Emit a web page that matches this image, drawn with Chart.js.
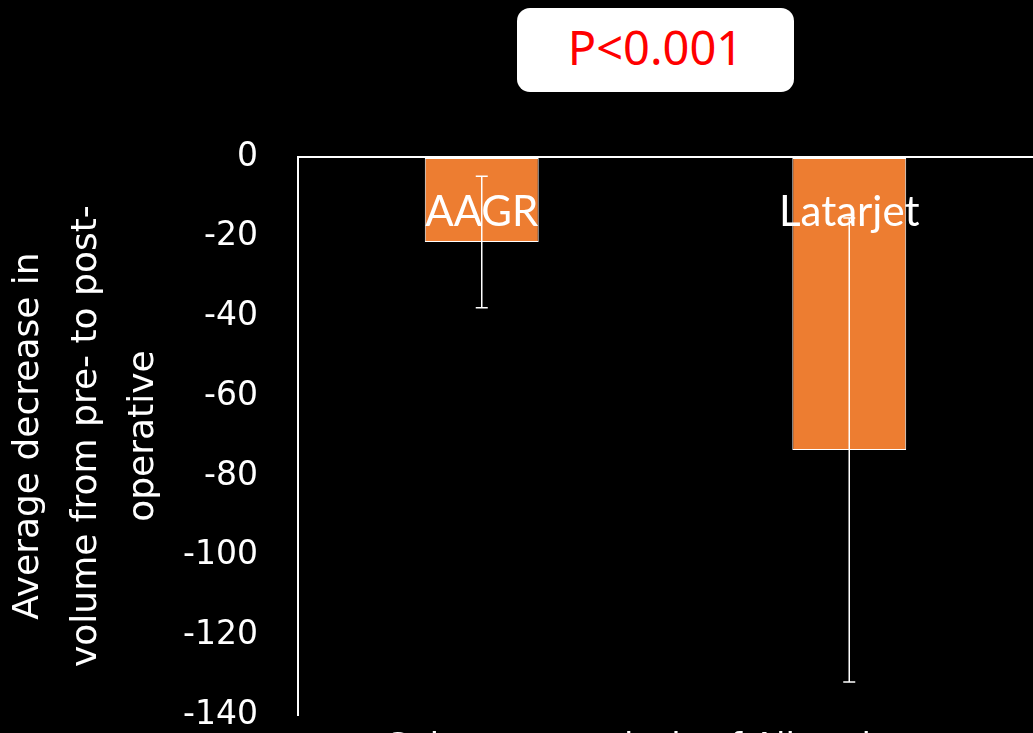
<!DOCTYPE html>
<html>
<head>
<meta charset="utf-8">
<script src="https://cdn.jsdelivr.net/npm/chart.js@4.4.1/dist/chart.umd.min.js"></script>
<style>
  html, body { margin: 0; padding: 0; background: #000; overflow: hidden; }
  #wrap { position: relative; width: 1033px; height: 733px; overflow: hidden; }
  #pbox {
    position: absolute; left: 517px; top: 8px; width: 277px; height: 84px;
    background: #fff; border-radius: 13px;
    color: #ff0000; font: 47px "Noto Sans", sans-serif;
    display: flex; align-items: center; justify-content: center;
    box-sizing: border-box; padding-bottom: 6px;
  }
</style>
</head>
<body>
<div id="wrap">
  <canvas id="chart" width="1033" height="803"></canvas>
  <div id="pbox">P&lt;0.001</div>
</div>
<script>
// Data
const groups = ['AAGR', 'Latarjet'];
const meanChange = [-21.3, -73.5];
const sdChange = [16.5, 58.2];
const yTitleLines = ['Average decrease in', 'volume from pre- to post-', 'operative'];
const xTitle = 'Subgroup analysis of All patients';

const LABEL_FONT = 'Lato, "Open Sans", sans-serif';
const AXIS_FONT = '"DejaVu Sans", sans-serif';

// error bars + in-bar labels
const barExtras = {
    id: 'barExtras',
    afterDatasetsDraw(chart) {
        const ctx = chart.ctx;
        const y = chart.scales.y;
        const meta = chart.getDatasetMeta(0);
        ctx.save();
        meta.data.forEach((bar, i) => {
            // label
            ctx.fillStyle = '#fff';
            ctx.font = '42px ' + LABEL_FONT;
            ctx.textAlign = 'center';
            ctx.textBaseline = 'middle';
            ctx.fillText(groups[i], bar.x, y.getPixelForValue(-14));

            // error bar
            const top = y.getPixelForValue(meanChange[i] + sdChange[i]);
            const bot = y.getPixelForValue(meanChange[i] - sdChange[i]);
            ctx.strokeStyle = '#fff';
            ctx.lineWidth = 1.5;
            ctx.beginPath();
            ctx.moveTo(bar.x, top); ctx.lineTo(bar.x, bot);
            ctx.moveTo(bar.x - 6, top); ctx.lineTo(bar.x + 6, top);
            ctx.moveTo(bar.x - 6, bot); ctx.lineTo(bar.x + 6, bot);
            ctx.stroke();
        });
        ctx.restore();
    }
};

new Chart(document.getElementById('chart'), {
    type: 'bar',
    data: {
        labels: groups,
        datasets: [{
            data: meanChange,
            backgroundColor: '#ED7D31',
            borderColor: '#fff',
            borderWidth: 1,
            borderSkipped: false,
            barPercentage: 0.31,
            categoryPercentage: 1.0,
        }]
    },
    options: {
        responsive: false,
        animation: false,
        layout: { padding: { top: 157, right: 0, left: 0, bottom: 0 } },
        plugins: {
            legend: { display: false },
            tooltip: { enabled: false }
        },
        scales: {
            x: {
                grid: { display: false },
                border: { display: false },
                ticks: { display: false },
                title: {
                    display: true,
                    text: xTitle,
                    color: '#fff',
                    font: { family: AXIS_FONT, size: 34 },
                    padding: { top: 5, bottom: 34 }
                }
            },
            y: {
                min: -140,
                max: 0,
                afterFit(scale) { scale.width = 298; },
                ticks: {
                    stepSize: 20,
                    color: '#fff',
                    padding: 40,
                    font: { family: AXIS_FONT, size: 33 }
                },
                grid: {
                    drawTicks: false,
                    lineWidth: 2,
                    color: ctx => ctx.tick && ctx.tick.value === 0 ? '#fff' : 'rgba(0,0,0,0)'
                },
                border: { display: true, color: '#fff', width: 2 },
                title: {
                    display: true,
                    text: yTitleLines,
                    color: '#fff',
                    font: { family: AXIS_FONT, size: 36, lineHeight: 1.6 },
                    padding: { top: 0, bottom: 0 }
                }
            }
        }
    },
    plugins: [barExtras]
});
</script>
</body>
</html>
